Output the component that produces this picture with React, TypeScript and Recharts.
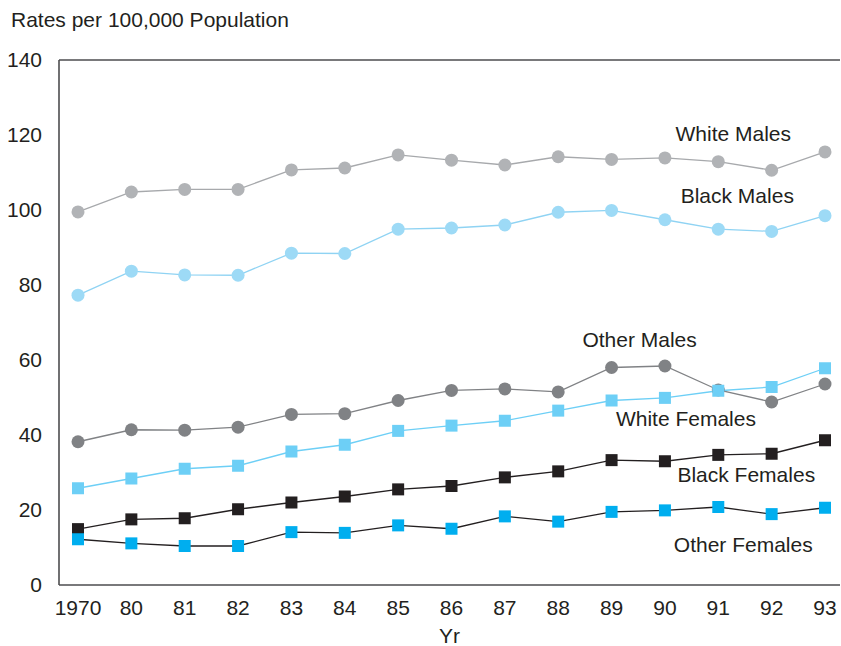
import React from 'react';
import { LineChart, Line, XAxis, YAxis, ReferenceLine, ReferenceDot, Label } from 'recharts';

const years = ['1970', '80', '81', '82', '83', '84', '85', '86', '87', '88', '89', '90', '91', '92', '93'];
const whiteMales = [99.5, 104.8, 105.5, 105.5, 110.7, 111.2, 114.7, 113.3, 112.0, 114.2, 113.5, 113.9, 112.9, 110.6, 115.5];
const blackMales = [77.3, 83.7, 82.7, 82.6, 88.5, 88.4, 94.9, 95.2, 96.0, 99.4, 99.9, 97.4, 94.9, 94.3, 98.5];
const otherMales = [38.2, 41.4, 41.3, 42.1, 45.5, 45.7, 49.2, 51.9, 52.3, 51.5, 58.0, 58.4, 52.0, 48.8, 53.6];
const whiteFemales = [25.8, 28.4, 31.0, 31.8, 35.6, 37.4, 41.1, 42.5, 43.8, 46.5, 49.2, 49.9, 51.8, 52.8, 57.8];
const blackFemales = [14.9, 17.5, 17.8, 20.2, 22.0, 23.6, 25.5, 26.4, 28.7, 30.3, 33.3, 33.0, 34.7, 35.0, 38.6];
const otherFemales = [12.2, 11.1, 10.4, 10.4, 14.1, 13.9, 15.9, 15.0, 18.3, 16.9, 19.5, 19.9, 20.8, 18.9, 20.6];
const yTicks = [0, 20, 40, 60, 80, 100, 120, 140];

const data = years.map((yr, i) => ({
  yr,
  whiteMales: whiteMales[i],
  blackMales: blackMales[i],
  otherMales: otherMales[i],
  whiteFemales: whiteFemales[i],
  blackFemales: blackFemales[i],
  otherFemales: otherFemales[i],
}));

const FONT = '"Liberation Sans", Arial, Helvetica, sans-serif';
const TEXT = '#231f20';
const FS = 21;

const circleDot = (fill: string) => (props: any) => {
  const { cx, cy, index } = props;
  if (cx == null || cy == null) return <g key={index} />;
  return <circle key={index} cx={cx} cy={cy} r={6.5} fill={fill} stroke="none" />;
};

const squareDot = (fill: string) => (props: any) => {
  const { cx, cy, index } = props;
  if (cx == null || cy == null) return <g key={index} />;
  return <rect key={index} x={cx - 6} y={cy - 6} width={12} height={12} fill={fill} stroke="none" />;
};

const seriesLabel = (text: string, dx: number) => (props: any) => {
  const vb = props.viewBox || {};
  const x = (vb.x || 0) + (vb.width || 0) / 2 + dx;
  const y = (vb.y || 0) + (vb.height || 0) / 2;
  return (
    <text x={x} y={y} textAnchor="middle" dominantBaseline="central" fontFamily={FONT} fontSize={FS} fill={TEXT}>
      {text}
    </text>
  );
};

export default function App() {
  return (
    <div style={{ position: 'absolute', left: 0, top: 0, width: 841, height: 646, background: '#fff' }}>
      <div style={{ position: 'absolute', left: 11, top: 8, fontFamily: FONT, fontSize: FS, color: TEXT, whiteSpace: 'nowrap' }}>
        Rates per 100,000 Population
      </div>
      <LineChart width={841} height={646} data={data} margin={{ top: 60, right: 1, left: 0, bottom: 0 }}>
        <XAxis
          dataKey="yr"
          padding={{ left: 19, right: 15 }}
          height={61}
          tickSize={0}
          tickMargin={15}
          axisLine={{ stroke: '#4d4d4f', strokeWidth: 1.6 }}
          tick={{ fill: TEXT, fontSize: FS, fontFamily: FONT }}
          interval={0}
        >
          <Label value="Yr" position="insideBottom" offset={0} dy={-3} fill={TEXT} fontSize={FS} fontFamily={FONT} />
        </XAxis>
        <YAxis
          domain={[0, 140]}
          ticks={yTicks}
          width={59}
          tickSize={0}
          tickMargin={17}
          axisLine={{ stroke: '#4d4d4f', strokeWidth: 1.6 }}
          tick={{ fill: TEXT, fontSize: FS, fontFamily: FONT }}
          interval={0}
        />
        <ReferenceLine y={140} stroke="#4d4d4f" strokeWidth={1.6} />
        <Line dataKey="whiteMales" stroke="#a7a9ac" strokeWidth={1.3} dot={circleDot('#b1b3b6')} isAnimationActive={false} />
        <Line dataKey="blackMales" stroke="#8fd3f3" strokeWidth={1.3} dot={circleDot('#9ddaf6')} isAnimationActive={false} />
        <Line dataKey="otherMales" stroke="#808285" strokeWidth={1.3} dot={circleDot('#808285')} isAnimationActive={false} />
        <Line dataKey="whiteFemales" stroke="#6dcff6" strokeWidth={1.3} dot={squareDot('#6dcff6')} isAnimationActive={false} />
        <Line dataKey="blackFemales" stroke="#231f20" strokeWidth={1.3} dot={squareDot('#231f20')} isAnimationActive={false} />
        <Line dataKey="otherFemales" stroke="#231f20" strokeWidth={1.3} dot={squareDot('#00aeef')} isAnimationActive={false} />
        <ReferenceDot x="91" y={120.5} r={0} stroke="none" fill="none" label={seriesLabel('White Males', 15)} />
        <ReferenceDot x="91" y={104} r={0} stroke="none" fill="none" label={seriesLabel('Black Males', 19)} />
        <ReferenceDot x="89" y={65.5} r={0} stroke="none" fill="none" label={seriesLabel('Other Males', 28)} />
        <ReferenceDot x="90" y={44.5} r={0} stroke="none" fill="none" label={seriesLabel('White Females', 21)} />
        <ReferenceDot x="91" y={29.5} r={0} stroke="none" fill="none" label={seriesLabel('Black Females', 28)} />
        <ReferenceDot x="91" y={10.7} r={0} stroke="none" fill="none" label={seriesLabel('Other Females', 25)} />
      </LineChart>
    </div>
  );
}
